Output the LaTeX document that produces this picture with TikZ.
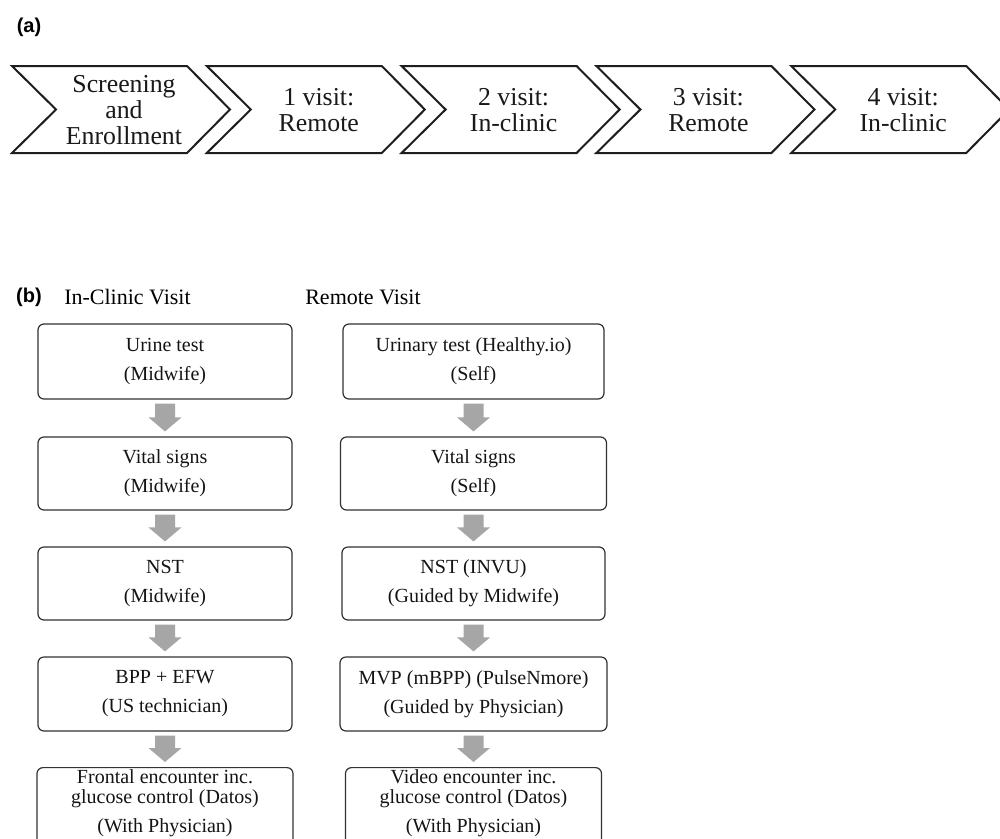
\documentclass[tikz,border=0pt]{standalone}
\usepackage{fontspec}
\setmainfont{Liberation Serif}
\newfontfamily\labfont{Liberation Sans}
\usetikzlibrary{calc}
\definecolor{arrowgray}{RGB}{166,166,166}
\definecolor{boxline}{RGB}{50,50,50}
\definecolor{chevline}{RGB}{30,30,30}
\tikzset{
  chev/.style={draw=chevline, line width=2, line join=miter},
  chevtext/.style={align=center, inner sep=0, text=black!90, font=\fontsize{25.8}{26}\selectfont},
  box/.style={draw=boxline, line width=1.2, rounded corners=6, align=center, inner sep=0,
    text=black!92, font=\fontsize{20}{29}\selectfont},
  boxtext/.style={align=center, inner sep=0, text=black!92, font=\fontsize{20}{20}\selectfont},
  lab/.style={inner sep=0, font=\labfont\bfseries\fontsize{20}{20}\selectfont},
  head/.style={inner sep=0, font=\fontsize{22}{22}\selectfont},
  blk/.style={fill=arrowgray, draw=none}
}
\newcommand\blkarrow[2]{%
  \path[blk] ($(#1.south)+(-10,4)$) -- ($(#1.south)+(10,4)$) -- ($(#2.north)+(10,-19)$)
    -- ($(#2.north)+(16.5,-19)$) -- ($(#2.north)+(0,-5)$) -- ($(#2.north)+(-16.5,-19)$)
    -- ($(#2.north)+(-10,-19)$) -- cycle;}
\begin{document}
\begin{tikzpicture}[x=1pt,y=-1pt]
\useasboundingbox (0,0) rectangle (1000,838);
\fill[white] (0,0) rectangle (1000,838);
\clip (0,0) rectangle (1000,838);

% (a)
\node[lab] (la) at (29,27) {(a)};
\foreach \i/\txt in {0/{Screening\\and\\Enrollment},1/{1 visit:\\Remote},2/{2 visit:\\In-clinic},3/{3 visit:\\Remote},4/{4 visit:\\In-clinic}}{
  \pgfmathsetmacro\L{12+194.8*\i}
  \draw[chev] (\L,66) -- (\L+175,66) -- (\L+218,109.5) -- (\L+175,153) -- (\L,153) -- (\L+44,109.5) -- cycle;
  \node[chevtext] (c\i) at (\L+112,110) {\txt};
}

% (b)
\node[lab] (lb) at (29,297) {(b)};
\node[head] (hin) at (127.5,297) {In-Clinic Visit};
\node[head] (hre) at (363,297) {Remote Visit};

% left column
\node[box, minimum width=254, minimum height=75] (L1) at (165,361.5) {Urine test\\(Midwife)};
\node[box, minimum width=254, minimum height=73] (L2) at (165,473.5) {Vital signs\\(Midwife)};
\node[box, minimum width=254, minimum height=73] (L3) at (165,583.5) {NST\\(Midwife)};
\node[box, minimum width=254, minimum height=74] (L4) at (165,694) {BPP + EFW\\(US technician)};
\node[box, minimum width=256, minimum height=90, anchor=north] (L5) at (165,767) {};
\node[boxtext, anchor=north] (L5t) at (165,769.5) {Frontal encounter inc.\\glucose control (Datos)\\[9pt](With Physician)};

% right column
\node[box, minimum width=261, minimum height=75] (R1) at (473.5,361.5) {Urinary test (Healthy.io)\\(Self)};
\node[box, minimum width=266, minimum height=73] (R2) at (473.5,473.5) {Vital signs\\(Self)};
\node[box, minimum width=263, minimum height=73] (R3) at (473.5,583.5) {NST (INVU)\\(Guided by Midwife)};
\node[box, minimum width=267, minimum height=74] (R4) at (473.5,694) {MVP (mBPP) (PulseNmore)\\(Guided by Physician)};
\node[box, minimum width=256, minimum height=90, anchor=north] (R5) at (473.5,767) {};
\node[boxtext, anchor=north] (R5t) at (473.5,769.5) {Video encounter inc.\\glucose control (Datos)\\[9pt](With Physician)};

% block arrows
\blkarrow{L1}{L2}
\blkarrow{L2}{L3}
\blkarrow{L3}{L4}
\blkarrow{L4}{L5}
\blkarrow{R1}{R2}
\blkarrow{R2}{R3}
\blkarrow{R3}{R4}
\blkarrow{R4}{R5}
\end{tikzpicture}
\end{document}
